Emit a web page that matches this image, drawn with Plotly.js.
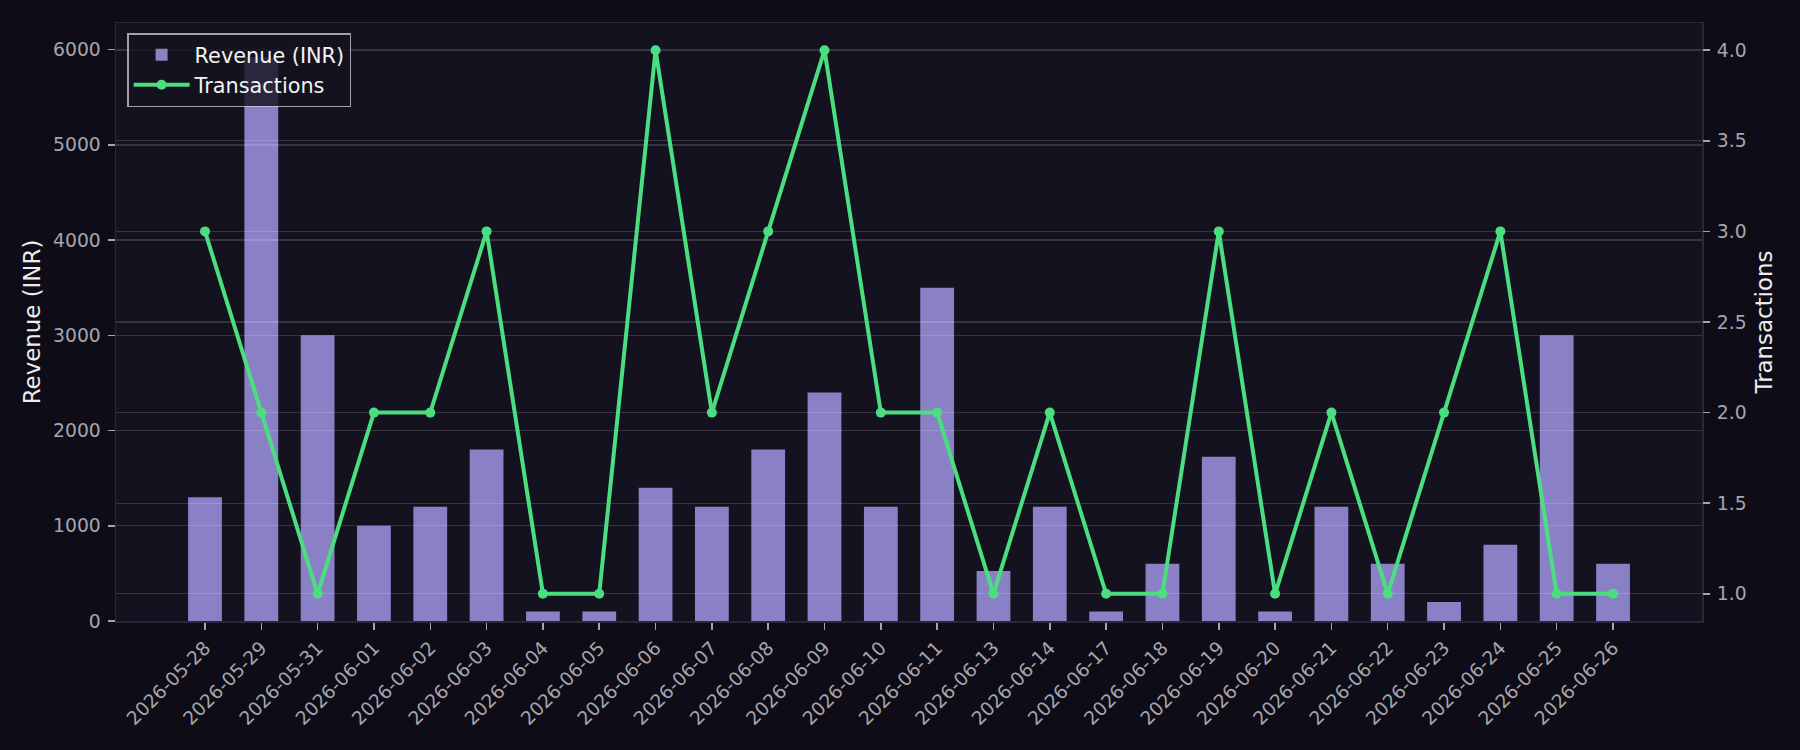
<!DOCTYPE html>
<html>
<head>
<meta charset="utf-8">
<script src="https://cdn.plot.ly/plotly-3.0.1.min.js"></script>
<style>
  html, body { margin: 0; padding: 0; background: #0e0c16; }
  #chart { width: 1800px; height: 750px; }
</style>
</head>
<body>
<div id="chart"></div>
<script>
var dates = ['2026-05-28', '2026-05-29', '2026-05-31', '2026-06-01', '2026-06-02', '2026-06-03',
  '2026-06-04', '2026-06-05', '2026-06-06', '2026-06-07', '2026-06-08', '2026-06-09',
  '2026-06-10', '2026-06-11', '2026-06-13', '2026-06-14', '2026-06-17', '2026-06-18',
  '2026-06-19', '2026-06-20', '2026-06-21', '2026-06-22', '2026-06-23', '2026-06-24',
  '2026-06-25', '2026-06-26'];
var revenue = [1300, 5920, 3000, 1000, 1200, 1800, 100, 100, 1400, 1200, 1800, 2400,
  1200, 3500, 525, 1200, 100, 600, 1725, 100, 1200, 600, 200, 800, 3000, 600];
var transactions = [3, 2, 1, 2, 2, 3, 1, 1, 4, 2, 3, 4, 2, 2, 1, 2, 1, 1, 3, 1, 2, 1, 2, 3, 1, 1];
var revenueTicks = [0, 1000, 2000, 3000, 4000, 5000, 6000];

var font = 'DejaVu Sans, Verdana, sans-serif';
var tickGray = '#a6a5ae';
var gridCol = 'rgba(255,255,255,0.15)';
var frameCol = '#2a2838';
var xRange = [-1.58, 26.58];
var revRange = [0, 6280];

var bars = {
  x: dates,
  y: revenue,
  name: 'Revenue (INR)',
  type: 'bar',
  width: 0.6,
  marker: {color: 'rgb(138,128,198)', line: {width: 0}},
  xaxis: 'x',
  yaxis: 'y'
};

var line = {
  x: dates,
  y: transactions,
  name: 'Transactions',
  type: 'scatter',
  mode: 'lines+markers',
  line: {color: '#4ade80', width: 4},
  marker: {color: '#4ade80', size: 10},
  xaxis: 'x2',
  yaxis: 'y2'
};

// empty trace so the left-hand grid subplot (drawn above the bars) exists
var leftGrid = {
  x: [], y: [], type: 'scatter', mode: 'lines',
  showlegend: false, hoverinfo: 'skip',
  xaxis: 'x2', yaxis: 'y3'
};

var layout = {
  width: 1800,
  height: 750,
  paper_bgcolor: '#0e0c16',
  plot_bgcolor: 'rgba(0,0,0,0)',
  font: {family: font, color: tickGray},
  margin: {l: 116, r: 98, t: 23, b: 129, pad: 0},
  showlegend: true,
  legend: {
    x: 0.007, y: 0.983, xanchor: 'left', yanchor: 'top',
    bgcolor: 'rgba(19,18,30,0.82)',
    bordercolor: 'rgba(210,210,215,0.75)',
    borderwidth: 1.5,
    itemwidth: 56,
    font: {family: font, size: 20.8, color: '#f2f2f2'},
    traceorder: 'normal'
  },
  xaxis: {
    type: 'category',
    categoryorder: 'array',
    categoryarray: dates,
    range: xRange,
    showgrid: false,
    zeroline: false,
    showline: true, mirror: true, linecolor: frameCol, linewidth: 1.5,
    ticks: 'outside', ticklen: 7, tickwidth: 1.5, tickcolor: tickGray,
    tickangle: -45,
    tickfont: {family: font, size: 18.75, color: tickGray},
    fixedrange: true
  },
  yaxis: {
    range: revRange,
    tickvals: revenueTicks,
    showgrid: false,
    zeroline: false,
    showline: true, mirror: true, linecolor: frameCol, linewidth: 1.5,
    ticks: 'outside', ticklen: 7, tickwidth: 1.5, tickcolor: tickGray,
    ticklabelstandoff: 3,
    tickfont: {family: font, size: 18.75, color: tickGray},
    title: {text: 'Revenue (INR)', font: {family: font, size: 22.9, color: '#ededed'}, standoff: 6}
  },
  xaxis2: {
    type: 'category',
    categoryorder: 'array',
    categoryarray: dates,
    range: xRange,
    anchor: 'y2',
    visible: false,
    showgrid: false
  },
  yaxis2: {
    anchor: 'x2',
    side: 'right',
    range: [0.85, 4.15],
    dtick: 0.5,
    tick0: 1,
    tickformat: '.1f',
    showgrid: true, gridcolor: gridCol, gridwidth: 1.3,
    zeroline: false,
    showline: false,
    ticks: 'outside', ticklen: 7, tickwidth: 1.5, tickcolor: tickGray,
    ticklabelstandoff: 3,
    tickfont: {family: font, size: 18.75, color: tickGray},
    title: {text: 'Transactions', font: {family: font, size: 22.9, color: '#ededed'}, standoff: 10}
  },
  yaxis3: {
    anchor: 'x2',
    overlaying: 'y2',
    side: 'left',
    range: revRange,
    tickvals: revenueTicks,
    showgrid: true, gridcolor: gridCol, gridwidth: 1.3,
    zeroline: false,
    showline: false,
    showticklabels: false,
    ticks: ''
  },
  shapes: [{
    type: 'rect', xref: 'x domain', yref: 'y domain',
    x0: 0, x1: 1, y0: 0, y1: 1,
    fillcolor: '#13121e', line: {width: 0}, layer: 'below'
  }],
  bargap: 0.4
};

Plotly.newPlot('chart', [bars, line, leftGrid], layout, {displayModeBar: false, staticPlot: true});
</script>
</body>
</html>
